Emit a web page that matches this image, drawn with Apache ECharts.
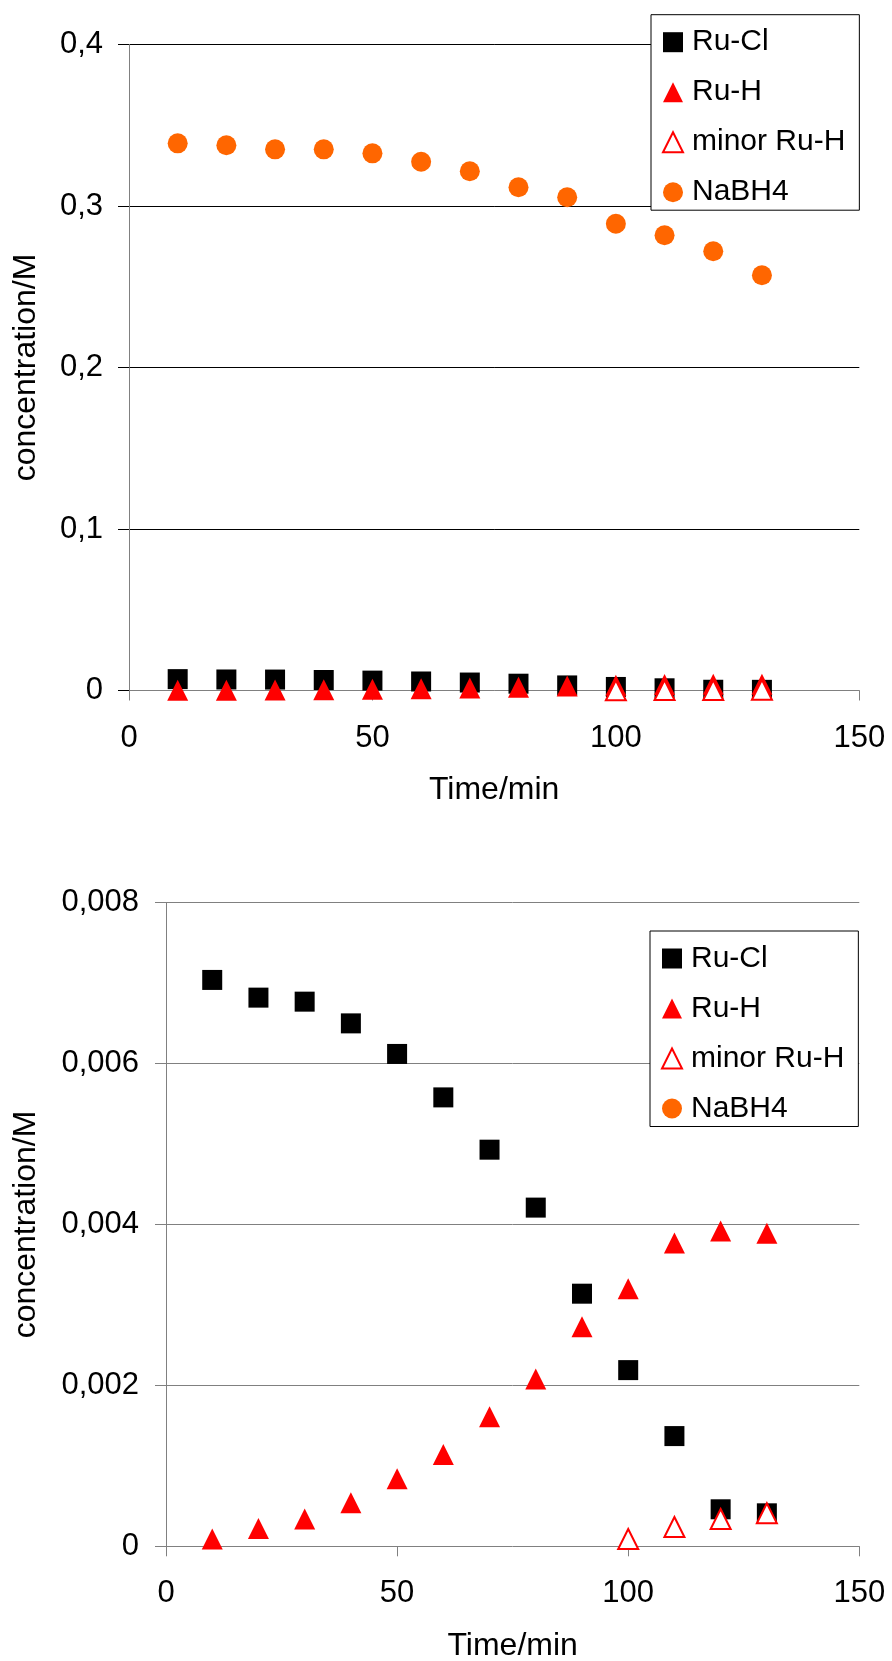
<!DOCTYPE html>
<html>
<head>
<meta charset="utf-8">
<script src="https://cdn.jsdelivr.net/npm/echarts@6/dist/echarts.min.js"></script>
<style>
html,body{margin:0;padding:0;background:#fff;}
#c{width:892px;height:1661px;}
</style>
</head>
<body>
<div id="c"></div>
<script>
// ---- data ----
var times = [10, 20, 30, 40, 50, 60, 70, 80, 90, 100, 110, 120, 130];
var ruCl = [0.00704, 0.00682, 0.00677, 0.00650, 0.00612, 0.00558, 0.00493, 0.00421, 0.00314, 0.00219, 0.00137, 0.00046, 0.00041];
var ruH = [0.00009, 0.00022, 0.00034, 0.00054, 0.00084, 0.00114, 0.00161, 0.00208, 0.00273, 0.00320, 0.00377, 0.00392, 0.00389];
var minorTimes = [100, 110, 120, 130];
var minorRuH = [0.00009, 0.00024, 0.00034, 0.00041];
var nabh4 = [0.3388, 0.3376, 0.3351, 0.3351, 0.3326, 0.3274, 0.3215, 0.3116, 0.3054, 0.2890, 0.2819, 0.2720, 0.2571];
var seriesNames = ['Ru-Cl', 'Ru-H', 'minor Ru-H', 'NaBH4'];
var xTitle = 'Time/min';
var yTitle = 'concentration/M';

function pairs(xs, ys) { return xs.map(function (x, i) { return [x, ys[i]]; }); }

var FONT = '"Liberation Sans", Arial, sans-serif';

function makeSeries(idx) {
  return [
    { name: 'Ru-Cl', type: 'scatter', xAxisIndex: idx, yAxisIndex: idx, data: pairs(times, ruCl),
      symbol: 'rect', symbolSize: 20, itemStyle: { color: '#000000', opacity: 1 }, clip: true },
    { name: 'Ru-H', type: 'scatter', xAxisIndex: idx, yAxisIndex: idx, data: pairs(times, ruH),
      symbol: 'triangle', symbolSize: [21, 21], itemStyle: { color: '#ff0000', opacity: 1 }, clip: true },
    { name: 'minor Ru-H', type: 'scatter', xAxisIndex: idx, yAxisIndex: idx, data: pairs(minorTimes, minorRuH),
      symbol: 'triangle', symbolSize: [20, 20], itemStyle: { color: '#ffffff', borderColor: '#ff0000', borderWidth: 2, opacity: 1 }, clip: true },
    { name: 'NaBH4', type: 'scatter', xAxisIndex: idx, yAxisIndex: idx, data: pairs(times, nabh4),
      symbol: 'circle', symbolSize: 20, itemStyle: { color: '#ff6600', opacity: 1 }, clip: true }
  ];
}

function makeLegend(left, top) {
  return {
    orient: 'vertical', left: left, top: top,
    padding: [12.5, 14, 3, 11],
    backgroundColor: '#ffffff', borderColor: '#000000', borderWidth: 1,
    itemWidth: 20, itemHeight: 20, itemGap: 20,
    selectedMode: false,
    data: seriesNames,
    textStyle: { fontFamily: FONT, fontSize: 30, color: '#000', padding: [0, 0, 0, 4] }
  };
}

function xAxisDef(gi) {
  return {
    type: 'value', gridIndex: gi, min: 0, max: 150, interval: 50,
    name: xTitle, nameLocation: 'middle', nameGap: 84,
    nameTextStyle: { fontFamily: FONT, fontSize: 32, color: '#000' },
    axisLine: { show: true, onZero: false, lineStyle: { color: '#808080', width: 1 } },
    axisTick: { show: true, inside: false, length: 10, lineStyle: { color: '#808080' } },
    axisLabel: { fontFamily: FONT, fontSize: 31, color: '#000', margin: 32 },
    splitLine: { show: false }
  };
}

function yAxisDef(gi, max, interval, dec, gridColor, nameGap, labelMargin) {
  return {
    type: 'value', gridIndex: gi, min: 0, max: max, interval: interval,
    name: yTitle, nameLocation: 'middle', nameGap: nameGap, nameRotate: 90,
    nameTextStyle: { fontFamily: FONT, fontSize: 32, color: '#000' },
    axisLine: { show: true, lineStyle: { color: '#808080', width: 1 } },
    axisTick: { show: true, inside: false, length: 11, lineStyle: { color: gridColor } },
    axisLabel: { fontFamily: FONT, fontSize: 31, color: '#000', margin: labelMargin,
      formatter: function (v) { return v === 0 ? '0' : v.toFixed(dec).replace('.', ','); } },
    splitLine: { show: true, showMinLine: false, lineStyle: { color: gridColor, width: 1 } }
  };
}

var chart = echarts.init(document.getElementById('c'), null, { renderer: 'canvas' });
chart.setOption({
  backgroundColor: '#ffffff',
  animation: false,
  grid: [
    { left: 129, top: 44.5, width: 730.3, height: 646, containLabel: false, outerBoundsMode: 'none' },
    { left: 166, top: 902.7, width: 693.3, height: 643.6, containLabel: false, outerBoundsMode: 'none' }
  ],
  legend: [makeLegend(651, 14.7), makeLegend(650, 931)],
  xAxis: [xAxisDef(0), xAxisDef(1)],
  yAxis: [
    yAxisDef(0, 0.4, 0.1, 1, '#000000', 87, 26),
    yAxisDef(1, 0.008, 0.002, 3, '#808080', 124, 27)
  ],
  series: makeSeries(0).concat(makeSeries(1))
});
</script>
</body>
</html>
